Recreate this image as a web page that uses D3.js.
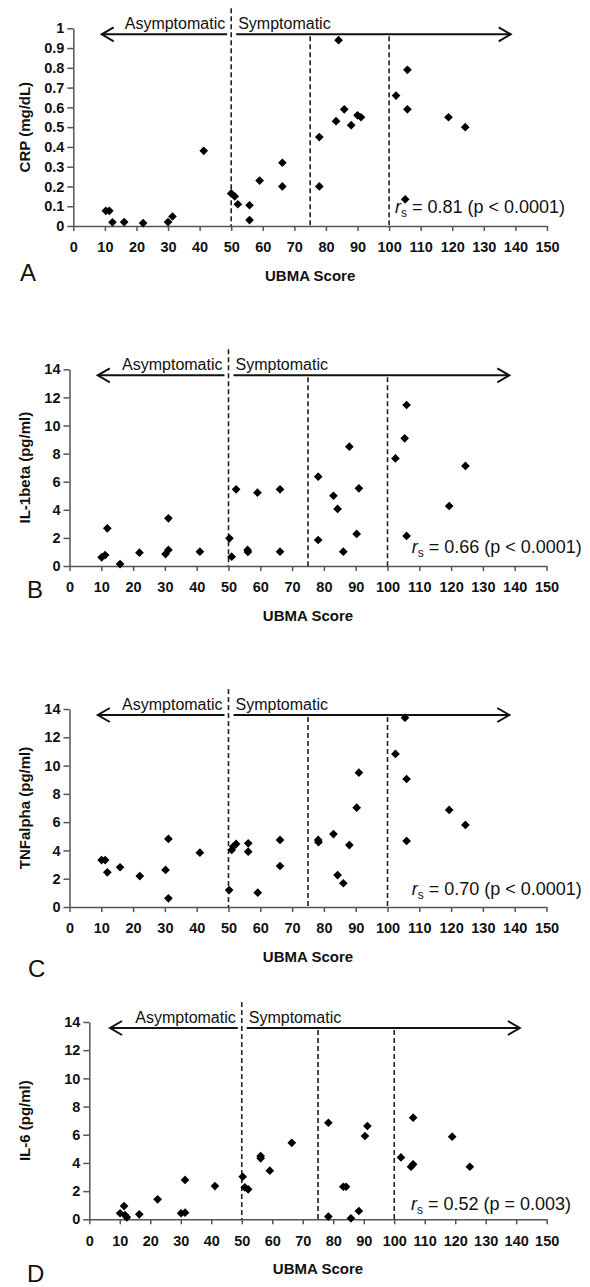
<!DOCTYPE html>
<html>
<head>
<meta charset="utf-8">
<script src="https://cdn.jsdelivr.net/npm/d3@7"></script>
<style>
body{margin:0;background:#fff;}
text{font-family:"Liberation Sans",Arial,sans-serif;}
</style>
</head>
<body>
<div id="chart"></div>
<script>
// values
var xTickVals = [0,10,20,30,40,50,60,70,80,90,100,110,120,130,140,150];
var crpTicks = [0,0.1,0.2,0.3,0.4,0.5,0.6,0.7,0.8,0.9,1];
var pgTicks = [0,2,4,6,8,10,12,14];
var cutoffs = [50,75,100];

// A - CRP
var ubmaA = [10.3,11.4,12.4,16.1,22.1,30.0,31.4,41.3,50.0,51.1,52.1,55.8,55.8,59.0,66.2,66.2,77.9,77.9,83.2,84.0,85.8,88.0,90.0,91.1,102.2,105.1,105.8,105.8,118.8,124.1];
var crpA = [0.077,0.077,0.019,0.02,0.015,0.02,0.048,0.38,0.165,0.15,0.11,0.105,0.03,0.23,0.32,0.2,0.45,0.2,0.53,0.94,0.59,0.51,0.56,0.55,0.66,0.135,0.79,0.59,0.55,0.50];

// B - IL-1beta
var ubmaB = [10.1,11.2,11.9,15.9,22.0,30.2,31.1,31.1,41.0,50.3,51.0,52.4,56.0,56.1,59.1,66.2,66.2,78.2,78.2,83.0,84.3,86.1,88.0,90.3,91.0,102.5,105.4,106.0,106.0,119.4,124.5];
var il1bB = [0.62,0.78,2.68,0.14,0.95,0.85,1.14,3.39,1.02,1.97,0.66,5.46,1.14,1.0,5.22,5.46,1.02,6.36,1.85,5.0,4.06,1.02,8.49,2.28,5.53,7.66,9.09,11.46,2.14,4.27,7.12];

// C - TNFalpha
var ubmaC = [10.1,11.2,11.9,15.9,22.1,30.2,31.1,31.1,41.0,50.2,51.0,51.5,52.4,56.2,56.2,59.2,66.2,66.2,78.2,78.3,83.0,84.3,86.1,88.0,90.3,91.0,102.5,105.5,106.0,106.0,119.4,124.5];
var tnfC = [3.32,3.32,2.45,2.81,2.19,2.62,4.81,0.61,3.84,1.2,4.03,4.27,4.46,4.5,3.91,1.01,4.74,2.9,4.74,4.58,5.16,2.26,1.68,4.38,7.02,9.5,10.82,13.39,9.05,4.67,6.86,5.8];

// D - IL-6
var ubmaD = [10.1,11.4,11.7,12.3,16.4,22.4,30.1,31.4,31.4,41.2,50.3,51.0,52.1,56.2,56.2,59.2,66.4,78.4,78.4,83.3,84.2,85.8,88.4,90.4,91.2,102.2,105.5,106.2,106.2,119.0,124.8];
var il6D = [0.43,0.94,0.3,0.14,0.35,1.42,0.43,0.47,2.79,2.36,3.02,2.27,2.13,4.49,4.33,3.45,5.43,6.85,0.19,2.31,2.31,0.07,0.59,5.91,6.62,4.39,3.73,3.9,7.21,5.86,3.73];

var panels = [
  {letter:'A', xs:ubmaA, ys:crpA, ymax:1, yticks:crpTicks, ylabel:'CRP (mg/dL)', r:'0.81', p:'(p < 0.0001)',
   left:73.3, right:547, bottom:226, top:28.3, arrL:9, arrR:138.5, rsX:395, rsDy:-13, letterX:20, letterY:281},
  {letter:'B', xs:ubmaB, ys:il1bB, ymax:14, yticks:pgTicks, ylabel:'IL-1beta (pg/ml)', r:'0.66', p:'(p < 0.0001)',
   left:69.5, right:546.5, bottom:566, top:369.3, arrL:8.9, arrR:138.3, rsX:411.7, rsDy:-13, letterX:27, letterY:598},
  {letter:'C', xs:ubmaC, ys:tnfC, ymax:14, yticks:pgTicks, ylabel:'TNFalpha (pg/ml)', r:'0.70', p:'(p < 0.0001)',
   left:69.5, right:546.5, bottom:907, top:709, arrL:8.9, arrR:138.3, rsX:411.7, rsDy:-12, letterX:28, letterY:977},
  {letter:'D', xs:ubmaD, ys:il6D, ymax:14, yticks:pgTicks, ylabel:'IL-6 (pg/ml)', r:'0.52', p:'(p = 0.003)',
   left:89.3, right:546.7, bottom:1219.3, top:1022, arrL:6.8, arrR:141.2, rsX:411, rsDy:-9, letterX:27, letterY:1282}
];

var axisCol = '#555';

var svg = d3.select('#chart')
    .append('svg')
    .attr('width',590)
    .attr('height',1287);

panels.forEach(function(p){
  var x = d3.scaleLinear().domain([0,150]).range([p.left,p.right]);
  var y = d3.scaleLinear().domain([0,p.ymax]).range([p.bottom,p.top]);
  var g = svg.append('g');

  // x axis
  var gx = g.append('g')
      .attr('transform','translate(0,'+p.bottom+')')
      .call(d3.axisBottom(x).tickValues(xTickVals).tickSize(5).tickSizeOuter(0).tickPadding(11));
  // y axis
  var gy = g.append('g')
      .attr('transform','translate('+p.left+',0)')
      .call(d3.axisLeft(y).tickValues(p.yticks).tickSize(6).tickSizeOuter(0).tickPadding(3)
        .tickFormat(function(d){ return String(d); }));

  [gx,gy].forEach(function(a){
    a.select('.domain').attr('stroke',axisCol).attr('stroke-width',1.5);
    a.selectAll('.tick line').attr('stroke',axisCol).attr('stroke-width',1.5);
    a.selectAll('.tick text')
        .attr('fill','#111')
        .style('font-size','14.5px')
        .style('font-weight','bold')
        .style('font-family','"Liberation Sans",Arial,sans-serif');
  });

  // axis titles
  g.append('text')
      .attr('x',(p.left+p.right)/2)
      .attr('y',p.bottom+55)
      .attr('text-anchor','middle')
      .style('font-size','15px')
      .style('font-weight','bold')
      .attr('fill','#111')
      .text('UBMA Score');

  g.append('text')
      .attr('transform','translate(30,'+((p.top+p.bottom)/2)+') rotate(-90)')
      .attr('text-anchor','middle')
      .style('font-size','15px')
      .style('font-weight','bold')
      .attr('fill','#111')
      .text(p.ylabel);

  // panel letter
  g.append('text')
      .attr('x',p.letterX)
      .attr('y',p.letterY)
      .style('font-size','24px')
      .attr('fill','#111')
      .text(p.letter);

  // cutoff lines
  var arrowY = p.top+6;
  g.selectAll('.cut')
      .data(cutoffs)
      .enter().append('line')
      .attr('x1',function(d){ return x(d); })
      .attr('x2',function(d){ return x(d); })
      .attr('y1',function(d){ return d==50 ? p.top-20 : arrowY+2; })
      .attr('y2',p.bottom)
      .attr('stroke','#222')
      .attr('stroke-width',1.6)
      .attr('stroke-dasharray','5,3');

  // arrows
  var xl = x(p.arrL), xr = x(p.arrR), xm = x(50);
  g.append('line').attr('x1',xl).attr('x2',xm-4).attr('y1',arrowY).attr('y2',arrowY)
      .attr('stroke','#111').attr('stroke-width',2);
  g.append('line').attr('x1',xm+5).attr('x2',xr).attr('y1',arrowY).attr('y2',arrowY)
      .attr('stroke','#111').attr('stroke-width',2);
  g.append('path')
      .attr('d','M'+(xl+12)+','+(arrowY-7)+'L'+xl+','+arrowY+'L'+(xl+12)+','+(arrowY+7))
      .attr('fill','none').attr('stroke','#111').attr('stroke-width',2);
  g.append('path')
      .attr('d','M'+(xr-12)+','+(arrowY-7)+'L'+xr+','+arrowY+'L'+(xr-12)+','+(arrowY+7))
      .attr('fill','none').attr('stroke','#111').attr('stroke-width',2);

  g.append('text')
      .attr('x',xm-6).attr('y',arrowY-5)
      .attr('text-anchor','end')
      .style('font-size','16px')
      .attr('fill','#111')
      .text('Asymptomatic');
  g.append('text')
      .attr('x',xm+7).attr('y',arrowY-5)
      .style('font-size','16px')
      .attr('fill','#111')
      .text('Symptomatic');

  // points
  var pts = p.xs.map(function(d,i){ return [d,p.ys[i]]; });
  g.selectAll('.pt')
      .data(pts)
      .enter().append('path')
      .attr('d',d3.symbol().type(d3.symbolSquare).size(38))
      .attr('transform',function(d){ return 'translate('+x(d[0])+','+y(d[1])+') rotate(45)'; })
      .attr('fill','#000');

  // correlation note
  var t = g.append('text')
      .attr('x',p.rsX)
      .attr('y',p.bottom+p.rsDy)
      .style('font-size','18px')
      .attr('fill','#111');
  t.append('tspan').style('font-style','italic').text('r');
  t.append('tspan').attr('dy',4).style('font-size','12px').text('s');
  t.append('tspan').attr('dy',-4).text(' = '+p.r+' '+p.p);
});
</script>
</body>
</html>
